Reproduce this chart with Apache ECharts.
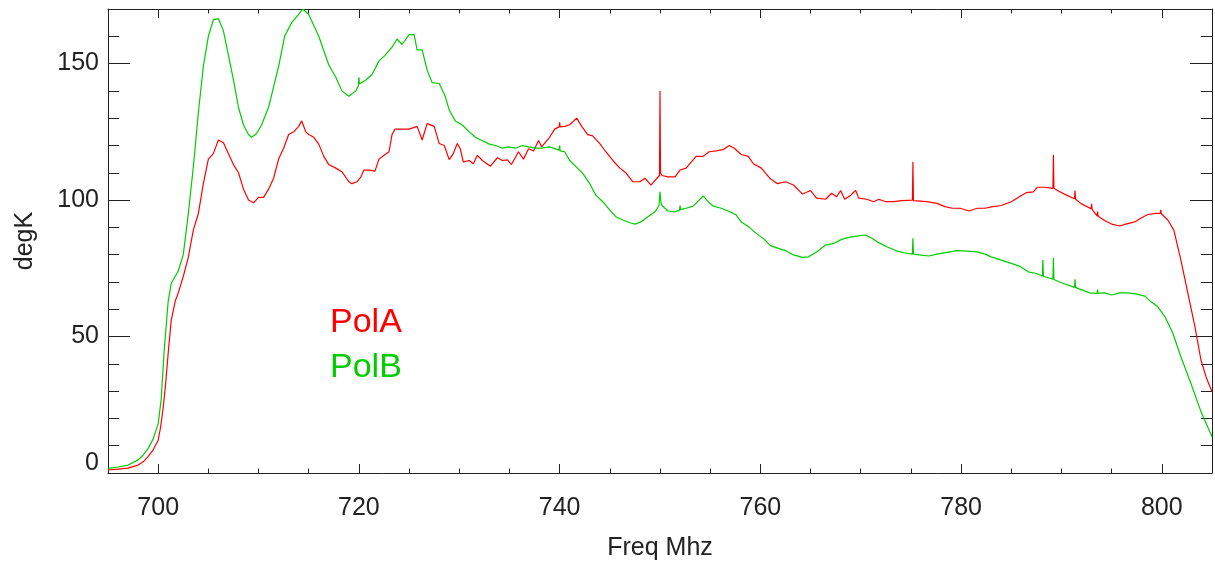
<!DOCTYPE html>
<html><head><meta charset="utf-8">
<script src="https://cdn.jsdelivr.net/npm/echarts@6/dist/echarts.min.js"></script>
<style>html,body{margin:0;padding:0;background:#fff}#c{width:1215px;height:569px}</style>
</head><body><div id="c"></div>
<script>
// ---- data (frequency in MHz, temperature in degK) ----
const freqA = [695,696,697,698,698.5,699,699.5,700,700.25,700.5,700.75,701,701.3,701.7,702,702.5,703,703.5,704,704.5,705,705.5,706,706.5,707,707.5,708,708.5,709,709.5,710,710.5,711,711.5,712,712.5,713,713.5,714,714.3,714.7,715,715.5,716,716.5,717,717.7,718.3,719,719.3,719.8,720.2,720.5,721,721.6,722,722.5,723,723.3,723.6,724.3,725,725.8,726.3,726.8,727.5,728,728.5,729,729.4,729.8,730.1,730.4,731,731.4,731.8,732.3,733.1,733.8,734.3,734.8,735.2,735.9,736.4,736.9,737.4,737.9,738.2,739,739.5,739.95,740,740.05,740.5,741,741.7,742.2,742.8,743.3,744,744.6,745.3,746,746.6,747.3,748,748.5,749.1,749.7,749.95,750,750.05,750.2,750.8,751.5,752,752.6,753.6,754.3,754.9,755.6,756.3,756.9,757.4,758.1,758.8,759.3,760.1,761,761.7,762.5,763.3,764.2,765,765.6,766.5,767.1,767.6,768,768.4,769,769.5,769.8,770.6,771.3,771.8,772.5,773.3,774.1,775.15,775.2,775.25,776.6,777.6,778.4,779.1,779.9,780.8,781.6,782.4,783,784,785,785.8,786.5,787.2,787.6,788.3,789.15,789.2,789.25,789.6,790.5,791.3,791.35,791.4,792,792.95,793,793.05,793.55,793.6,793.65,794.3,795,795.8,796.4,797.3,797.9,798.6,799.4,799.85,799.9,799.95,800.6,801.2,801.9,802.6,803.3,803.9,804.4,805];
const tempA = [1.1,1.4,1.8,2.9,4.1,6,8.5,12,17,24,33,44,56,63,66,72,79,89,95,106,115,117,122,121,117,113,110,104,100,99,101,101,104,108,115,119,124,125,127,129,125,124,123,120.5,116,113,111.7,110.4,106.7,106,106.7,108.5,111,111,110.6,115,116.4,117.7,124,126,126,126,127,122,128,127,120.7,120,114.8,117,120.7,118.8,114,114.5,113.3,116.4,114.5,112.4,115.5,114.5,114.7,113,117.7,115,118.8,118,121.8,119.5,123,126,126.8,128.5,126.8,127,127.6,130,127,124,123.5,120.7,117.7,114.5,111.7,110,106.7,106.7,108,105.5,108,109,140,110,109,108.5,108.5,111,111.7,116,116,117.7,118,118.5,120,119,116.7,116,113.3,111.7,107.8,106,106.7,105.5,102.2,103.5,100.7,100.3,102.5,101.2,103.5,100.3,101.8,103.5,100.7,100.3,99.4,100.3,99.4,99.4,99.8,100,114,99.8,99.4,98.8,97.6,97,97,96,97,97,97.5,98,99.4,101.2,102.7,103,104.7,104.7,104.3,116.6,104.3,103.5,101.8,100.5,103.5,100.3,98.6,96.8,98.6,96.6,94.2,95.8,94.1,92.5,91.2,90.5,91.2,92,93.3,94.7,95.1,95.1,96.4,95,92.7,89,78,65.8,53.6,41.4,35.3,29.8];

const freqB = [695,696,697,698,698.5,699,699.5,700,700.3,700.6,701,701.3,702,702.5,703,703.5,704,704.5,705,705.5,706,706.5,707,707.5,708,708.5,709,709.3,709.8,710.3,711,711.4,712,712.6,713.3,714,714.4,715,716,717,717.7,718.3,719,719.7,719.95,720,720.05,720.7,721.3,722,722.6,723.3,723.8,724.3,725,725.5,725.8,726.3,726.8,727.3,728,728.6,729,729.6,730.3,731,731.6,732.3,733,733.6,734.3,734.9,735.6,736.3,736.9,737.6,738.2,739,739.95,740,740.05,740.5,741,741.7,742.3,743,743.6,744.3,745,745.6,746.3,747,747.5,748.1,748.8,749.5,749.9,750,750.1,750.2,750.8,751.5,751.95,752,752.05,752.6,753.3,753.9,754.3,754.8,755.3,756.1,756.8,757.6,758.1,758.9,759.6,760.4,761,761.8,762.5,763.3,764.2,764.8,765.6,766.5,767.3,768.1,768.8,769.6,770.5,771.1,771.8,772.6,773.5,774.3,775.15,775.2,775.25,775.8,776.8,777.6,778.6,779.6,780.6,781.6,782.4,783,784,785,785.8,786.7,787.5,788.1,788.15,788.2,789.15,789.2,789.25,790,791.3,791.35,791.4,792.1,792.8,793.55,793.6,793.65,794.3,795,795.8,796.6,797.4,798.3,798.9,799.6,800.3,801.1,801.9,802.9,803.9,805];
const tempB = [1.7,2.2,2.9,4.8,6.5,9,12.5,18,27,45,63,69.5,74,80,95,112,132,149,160,166,166.5,162,153,144,134,127.5,124,123,124.4,127.5,134,140,149,160,165,168,170,168,160,149.5,145,140,138,140,142,145,142.5,144,146,151,153,156,159,157,160.6,160.6,155,155,147.6,143,142.7,138,133,129,127.5,125,123,121.7,120.5,120,119,119.5,119,120,119.5,119,119,119.5,118.3,120,118,117.7,114.5,112,109.8,106,101.8,99.4,96.3,93.9,92.7,91.7,91.2,92,93.9,95.7,98,103,99,98,96,95.7,96.3,98,96.5,97,97.8,100,101.5,99.4,97.8,97,96,94.5,92,90,87.8,85.6,83.3,82.3,81.5,79.9,79,79.2,81,83.5,84.1,85.6,86.3,86.8,87.2,86,84.4,82.9,81.5,80.7,80.2,86,80.2,79.9,79.5,80.2,80.8,81.5,81.3,81,80.2,79.2,78,76.8,75.8,73.7,73.1,72.2,78,72.1,71,78.9,70.9,69.7,68,71,68,67,66,65.8,67.2,65.8,66,65.2,66,66,65.6,64.8,62.8,60.9,57.3,51.2,42.6,32.8,22.5,13.3];

const xMajorTicks = [700,720,740,760,780,800];
const yMajorTicks = [0,50,100,150];
const seriesNames = ['PolA','PolB'];
const seriesColors = ['#ff0000','#00cc00'];

// ---- chart ----
const FONT = '"Liberation Sans", Arial, Helvetica, sans-serif';
const AX = '#222';
const chart = echarts.init(document.getElementById('c'), null, {renderer:'canvas'});

function xAxisDef(pos, major, main) {
  const a = {
    type:'value', position:pos, min:695, max:805,
    splitLine:{show:false},
    axisLine:{show:main, onZero:false, lineStyle:{color:AX, width:1}},
    axisTick:{show:true, inside:true, length: major?9:4.5, lineStyle:{color:AX, width:1}},
    axisLabel:{show:false}
  };
  if (major) a.axisTick.customValues = xMajorTicks; else a.interval = 5;
  return a;
}
function yAxisDef(pos, major, main) {
  const a = {
    type:'value', position:pos, min:0, max:170,
    splitLine:{show:false},
    axisLine:{show:main, onZero:false, lineStyle:{color:AX, width:1}},
    axisTick:{show:true, inside:true, length: major?22:11, lineStyle:{color:AX, width:1}},
    axisLabel:{show:false}
  };
  if (major) a.axisTick.customValues = yMajorTicks; else a.interval = 10;
  return a;
}

const xs = [xAxisDef('bottom',false,true), xAxisDef('bottom',true,false), xAxisDef('top',false,true), xAxisDef('top',true,false)];
xs[0].axisLabel = {show:true, customValues:xMajorTicks, margin:23, fontSize:25, color:AX, fontFamily:FONT};
xs[0].name = 'Freq Mhz'; xs[0].nameLocation = 'middle'; xs[0].nameGap = 63;
xs[0].nameTextStyle = {fontSize:25, color:AX, fontFamily:FONT};

const ys = [yAxisDef('left',false,true), yAxisDef('left',true,false), yAxisDef('right',false,true), yAxisDef('right',true,false)];
ys[0].axisLabel = {
  show:true, customValues:yMajorTicks, margin:9, fontSize:25, color:AX, fontFamily:FONT,
  formatter: v => v === 0 ? '{lift|0}' : String(v),
  rich:{ lift:{fontSize:25, color:AX, fontFamily:FONT, padding:[0,0,19,0]} }
};
ys[0].name = 'degK'; ys[0].nameLocation = 'middle'; ys[0].nameGap = 70;
ys[0].nameTextStyle = {fontSize:25, color:AX, fontFamily:FONT};

const freqs = [freqA, freqB], temps = [tempA, tempB];

chart.setOption({
  animation:false,
  backgroundColor:'#ffffff',
  grid:{left:108, right:3, top:9, bottom:96, containLabel:false, outerBoundsMode:'none'},
  xAxis: xs,
  yAxis: ys,
  legend:{
    data: seriesNames.map((n,i)=>({name:n, textStyle:{color:seriesColors[i]}})),
    orient:'vertical', left:325, top:306, icon:'none', itemWidth:0, itemHeight:14, itemGap:11,
    padding:0, selectedMode:false,
    textStyle:{fontSize:34, fontFamily:FONT}
  },
  series: seriesNames.map((n,i)=>({
    name:n, type:'line', xAxisIndex:0, yAxisIndex:0,
    data: freqs[i].map((f,k)=>[f, temps[i][k]]),
    showSymbol:false, symbol:'none', smooth:false, clip:true,
    lineStyle:{color:seriesColors[i], width:1.2},
    itemStyle:{color:seriesColors[i]},
    emphasis:{disabled:true}
  }))
});
</script>
</body></html>
